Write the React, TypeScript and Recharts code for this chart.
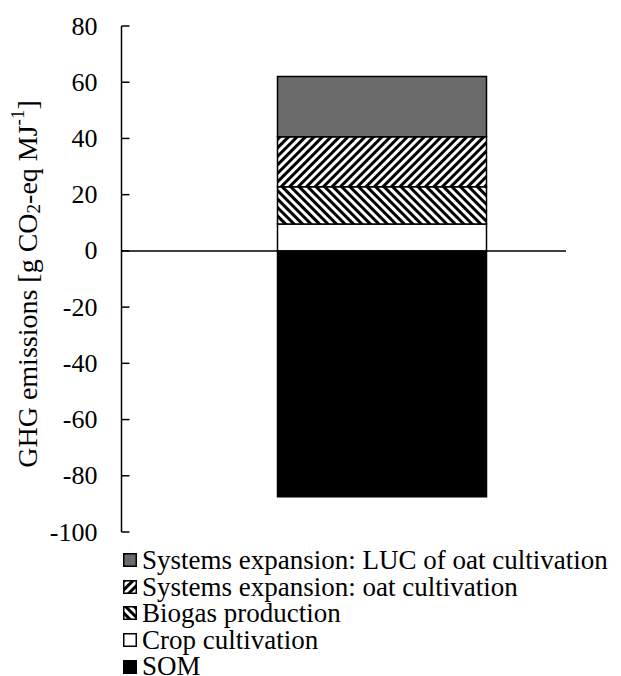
import React from 'react';
import { BarChart, Bar, XAxis, YAxis, ReferenceLine } from 'recharts';

const categories = ['Scenario'];
const som = [-87.5];
const crop = [9.6];
const biogas = [13.2];
const oat = [17.8];
const luc = [21.4];
const yTicks = [-100, -80, -60, -40, -20, 0, 20, 40, 60, 80];

const data = categories.map((name, i) => ({
  name,
  som: som[i],
  crop: crop[i],
  biogas: biogas[i],
  oat: oat[i],
  luc: luc[i],
}));

const FONT = '"Liberation Serif", "Times New Roman", serif';

const legendItems = [
  { label: 'Systems expansion: LUC of oat cultivation', fill: '#6b6b6b' },
  { label: 'Systems expansion: oat cultivation', fill: 'url(#hatchOat)' },
  { label: 'Biogas production', fill: 'url(#hatchBiogas)' },
  { label: 'Crop cultivation', fill: '#ffffff' },
  { label: 'SOM', fill: '#000000' },
];

function YTick(props: any) {
  const { x, y, payload } = props;
  return (
    <g>
      <text x={x} y={y} textAnchor="end" dominantBaseline="central" fontSize={26} fontFamily={FONT} fill="#000">
        {payload.value}
      </text>
      <line x1={x + 24} x2={x + 32} y1={y} y2={y} stroke="#000" strokeWidth={1.5} />
    </g>
  );
}

function YLabel() {
  return (
    <text
      x={19}
      y={276}
      transform="rotate(-90 19 276)"
      textAnchor="middle"
      dominantBaseline="central"
      fontSize={28}
      fontFamily={FONT}
      fill="#000"
    >
      GHG emissions [g CO
      <tspan fontSize={19} dy={6}>2</tspan>
      <tspan dy={-6}>-eq MJ</tspan>
      <tspan fontSize={19} dy={-10}>-1</tspan>
      <tspan dy={10}>]</tspan>
    </text>
  );
}

export default function App() {
  return (
    <div style={{ position: 'relative', width: 613, height: 668 }}>
      <BarChart
        width={613}
        height={668}
        data={data}
        stackOffset="sign"
        margin={{ top: 18, right: 55, left: 23.5, bottom: 144 }}
      >
        <defs>
          <pattern id="hatchOat" width={6} height={6} patternUnits="userSpaceOnUse" patternTransform="rotate(45)">
            <rect width={6} height={6} fill="#fff" />
            <rect width={3} height={6} fill="#000" />
          </pattern>
          <pattern id="hatchBiogas" width={6} height={6} patternUnits="userSpaceOnUse" patternTransform="rotate(-45)">
            <rect width={6} height={6} fill="#fff" />
            <rect width={3} height={6} fill="#000" />
          </pattern>
        </defs>
        <XAxis dataKey="name" hide padding={{ left: 76, right: 0 }} />
        <YAxis
          width={90}
          domain={[-100, 80]}
          ticks={yTicks}
          interval={0}
          tickLine={false}
          tickSize={0}
          tickMargin={24}
          tick={<YTick />}
          axisLine={{ stroke: '#000', strokeWidth: 1.5 }}
          label={{ content: () => <YLabel /> }}
        />
        <Bar dataKey="som" stackId="a" fill="#000" stroke="#000" strokeWidth={1.5} barSize={209} isAnimationActive={false} />
        <Bar dataKey="crop" stackId="a" fill="#fff" stroke="#000" strokeWidth={1.5} barSize={209} isAnimationActive={false} />
        <Bar dataKey="biogas" stackId="a" fill="url(#hatchBiogas)" stroke="#000" strokeWidth={1.5} barSize={209} isAnimationActive={false} />
        <Bar dataKey="oat" stackId="a" fill="url(#hatchOat)" stroke="#000" strokeWidth={1.5} barSize={209} isAnimationActive={false} />
        <Bar dataKey="luc" stackId="a" fill="#6b6b6b" stroke="#000" strokeWidth={1.5} barSize={209} isAnimationActive={false} />
        <ReferenceLine y={0} stroke="#000" strokeWidth={1.5} />
      </BarChart>
      <div style={{ position: 'absolute', left: 115, top: 539, fontFamily: FONT, fontSize: 27, color: '#000' }}>
        {legendItems.map((item) => (
          <div key={item.label} style={{ display: 'flex', alignItems: 'center', height: 26.6, lineHeight: '26.6px', whiteSpace: 'nowrap' }}>
            <svg width={14} height={14} style={{ marginRight: 5, flexShrink: 0 }}>
              <rect x={0.75} y={0.75} width={12.5} height={12.5} fill={item.fill} stroke="#000" strokeWidth={1.5} />
            </svg>
            <span>{item.label}</span>
          </div>
        ))}
      </div>
    </div>
  );
}
